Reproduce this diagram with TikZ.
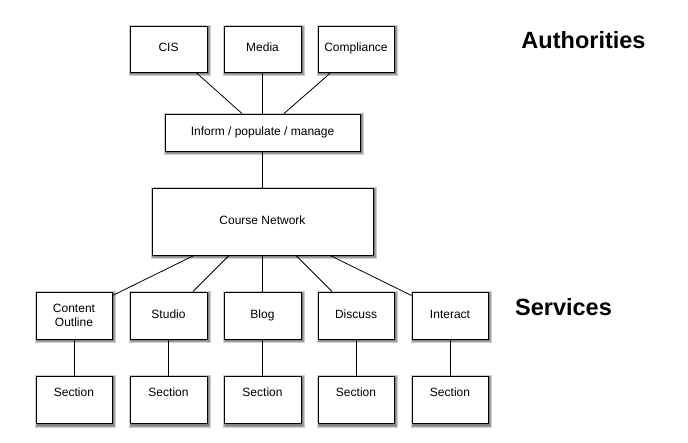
\documentclass[tikz,border=0pt]{standalone}
\usepackage{fontspec}
\setmainfont{Liberation Sans}
\usetikzlibrary{backgrounds}
\tikzset{
  box/.style={draw=black, line width=0.9pt, fill=white, inner sep=0pt,
    font=\fontsize{12}{14.4}\selectfont, align=center},
  onel/.style={text height=8.6pt, text depth=2.6pt},
  shadowlayer/.style={fill=black, opacity=0.2},
  conn/.style={draw=black, line width=0.8pt},
  heading/.style={font=\fontsize{23.5}{28}\selectfont\bfseries, inner sep=0pt}
}
\begin{document}
\begin{tikzpicture}[x=1pt,y=-1pt]
\useasboundingbox (0,0) rectangle (688,443);
% top row
\node[box, onel, minimum width=77pt, minimum height=46pt] (cis) at (168.5,49) {CIS};
\node[box, onel, minimum width=77pt, minimum height=46pt] (media) at (262.5,49) {Media};
\node[box, onel, minimum width=76pt, minimum height=46pt] (comp) at (356,49) {Compliance};
\node[box, onel, minimum width=195pt, minimum height=37pt] (inform) at (262.5,132.5) {Inform / populate / manage};
\node[box, onel, minimum width=221pt, minimum height=67pt] (cn) at (262.5,221.5) {Course Network};
% service row
\node[box, minimum width=76pt, minimum height=47pt] (co) at (74,315.5) {Content\\Outline};
\node[box, onel, minimum width=77pt, minimum height=47pt] (studio) at (168.5,315.5) {Studio};
\node[box, onel, minimum width=77pt, minimum height=47pt] (blog) at (262.5,315.5) {Blog};
\node[box, onel, minimum width=76pt, minimum height=47pt] (disc) at (356,315.5) {Discuss};
\node[box, onel, minimum width=76pt, minimum height=47pt] (inter) at (450,315.5) {Interact};
% section row
\node[box, minimum width=76pt, minimum height=47pt, anchor=north] (s1) at (74,376) {};
\node[box, minimum width=77pt, minimum height=47pt, anchor=north] (s2) at (168.5,376) {};
\node[box, minimum width=77pt, minimum height=47pt, anchor=north] (s3) at (262.5,376) {};
\node[box, minimum width=76pt, minimum height=47pt, anchor=north] (s4) at (356,376) {};
\node[box, minimum width=76pt, minimum height=47pt, anchor=north] (s5) at (450,376) {};
\foreach \n in {s1,s2,s3,s4,s5}
  \node[font=\fontsize{12}{14.4}\selectfont, inner sep=0pt, onel] (\n t) at ([yshift=-17pt]\n.north) {Section};
% headings
\node[heading] (auth) at (583.5,40) {Authorities};
\node[heading] (serv) at (563.5,307) {Services};
% connectors
\draw[conn] ([xshift=27.5pt]cis.south) -- ([xshift=-20.5pt]inform.north);
\draw[conn] (media.south) -- (inform.north);
\draw[conn] ([xshift=-25pt]comp.south) -- ([xshift=21.5pt]inform.north);
\draw[conn] (inform.south) -- (cn.north);
\draw[conn] ([xshift=-68.5pt]cn.south) -- ([yshift=-4pt]co.north east);
\draw[conn] ([xshift=-33.5pt]cn.south) -- ([xshift=24.5pt]studio.north);
\draw[conn] (cn.south) -- (blog.north);
\draw[conn] ([xshift=33.5pt]cn.south) -- ([xshift=-24pt]disc.north);
\draw[conn] ([xshift=67.5pt]cn.south) -- ([yshift=-4pt]inter.north west);
\draw[conn] (co.south) -- (s1.north);
\draw[conn] (studio.south) -- (s2.north);
\draw[conn] (blog.south) -- (s3.north);
\draw[conn] (disc.south) -- (s4.north);
\draw[conn] (inter.south) -- (s5.north);
% soft drop shadows
\begin{scope}[on background layer]
  \foreach \n in {cis,media,comp,inform,cn,co,studio,blog,disc,inter,s1,s2,s3,s4,s5} {
    \fill[shadowlayer] ([xshift=1.5pt,yshift=-1.5pt]\n.north west) rectangle ([xshift=1.5pt,yshift=-2pt]\n.south east);
    \fill[shadowlayer] ([xshift=0.5pt,yshift=-0.5pt]\n.north west) rectangle ([xshift=2.5pt,yshift=-3pt]\n.south east);
    \fill[shadowlayer] ([xshift=-0.5pt,yshift=0.5pt]\n.north west) rectangle ([xshift=3.5pt,yshift=-4pt]\n.south east);
  }
\end{scope}
\end{tikzpicture}
\end{document}
